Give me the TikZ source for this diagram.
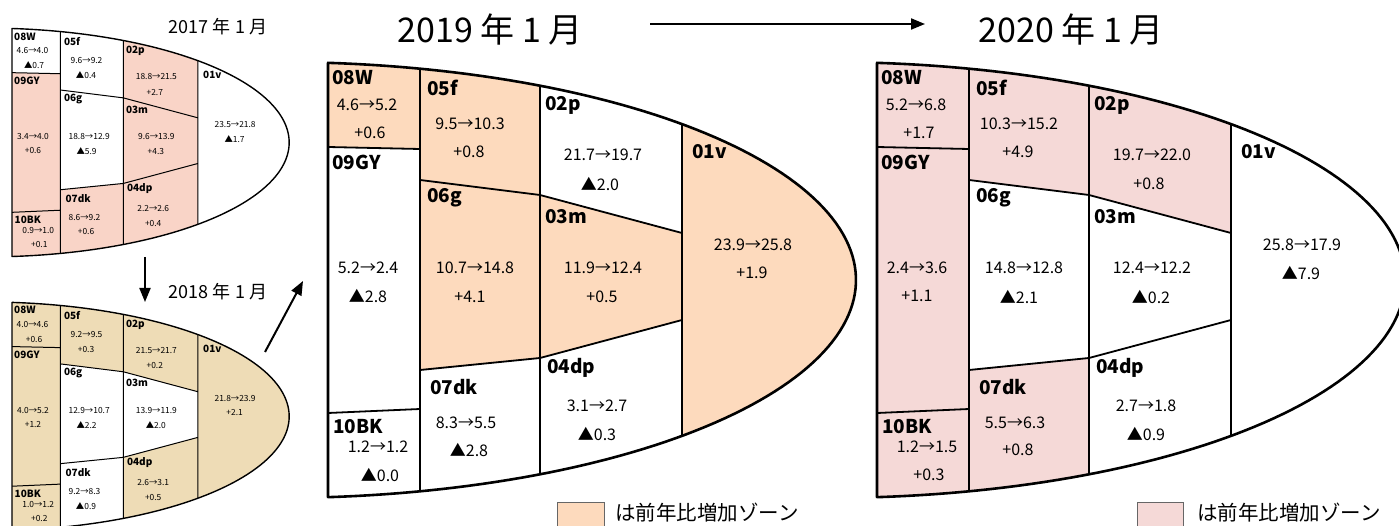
\documentclass[tikz,border=0pt]{standalone}
\usepackage{fontspec}
\setmainfont{Noto Sans CJK JP}
\usetikzlibrary{arrows.meta}
\definecolor{pinkA}{HTML}{F9D4C7}
\definecolor{beigeA}{HTML}{EEDCB6}
\definecolor{orangeA}{HTML}{FDDABD}
\definecolor{pinkB}{HTML}{F5D9D7}
% regions in a local frame: x from left edge, y up from the vertical centre
\newcommand\RegW{(0,133) -- (0,217.2) -- plot[domain=85.04:75.78,samples=10] ({-50+578*cos(\x)},{218*sin(\x)}) -- (92,131) -- cycle}
\newcommand\RegGY{(0,133) -- (92,131) -- (92,-129) -- (0,-133) -- cycle}
\newcommand\RegBK{(0,-133) -- (92,-129) -- (92,-211.3) -- plot[domain=-75.78:-85.04,samples=10] ({-50+578*cos(\x)},{218*sin(\x)}) -- cycle}
\newcommand\RegF{(92,100) -- (92,211.3) -- plot[domain=75.78:63.05,samples=12] ({-50+578*cos(\x)},{218*sin(\x)}) -- (212,85) -- cycle}
\newcommand\RegG{(92,100) -- (212,85) -- (212,-78) -- (92,-90) -- cycle}
\newcommand\RegDK{(92,-90) -- (212,-78) -- (212,-194.3) -- plot[domain=-63.05:-75.78,samples=12] ({-50+578*cos(\x)},{218*sin(\x)}) -- cycle}
\newcommand\RegP{(212,85) -- (212,194.3) -- plot[domain=63.05:45.65,samples=14] ({-50+578*cos(\x)},{218*sin(\x)}) -- (354,47) -- cycle}
\newcommand\RegM{(212,85) -- (354,47) -- (354,-40) -- (212,-78) -- cycle}
\newcommand\RegDP{(212,-78) -- (354,-40) -- (354,-155.9) -- plot[domain=-45.65:-63.05,samples=14] ({-50+578*cos(\x)},{218*sin(\x)}) -- cycle}
\newcommand\RegV{(354,155.9) -- plot[domain=45.65:-45.65,samples=60] ({-50+578*cos(\x)},{218*sin(\x)}) -- cycle}
\newcommand\OutLine{(0,-217.2) -- (0,217.2) -- plot[domain=85.04:-85.04,samples=120] ({-50+578*cos(\x)},{218*sin(\x)}) -- cycle}
\newcommand\InLines{(0,133) -- (92,131) (0,-133) -- (92,-129) (92,211.3) -- (92,-211.3) (212,194.3) -- (212,-194.3) (354,155.9) -- (354,-155.9) (92,100) -- (212,85) -- (354,47) (92,-90) -- (212,-78) -- (354,-40)}
% zone texts
\newcommand\zW[3]{\node[lab] (#1W) at (4,202) {08W}; \node[val] (#1Wa) at (39,175) {#2}; \node[val] (#1Wb) at (42,147) {#3};}
\newcommand\zGY[3]{\node[lab] (#1GY) at (4,118) {09GY}; \node[val] (#1GYa) at (40,12) {#2}; \node[val] (#1GYb) at (40,-16) {#3};}
\newcommand\zBK[3]{\node[lab] (#1BK) at (5,-147) {10BK}; \node[val] (#1BKa) at (50,-167) {#2}; \node[val] (#1BKb) at (52,-195) {#3};}
\newcommand\zF[3]{\node[lab] (#1F) at (99,192) {05f}; \node[val] (#1Fa) at (142,156) {#2}; \node[val] (#1Fb) at (141,128) {#3};}
\newcommand\zG[3]{\node[lab] (#1G) at (99,82) {06g}; \node[val] (#1Ga) at (147,12) {#2}; \node[val] (#1Gb) at (142,-17) {#3};}
\newcommand\zDK[3]{\node[lab] (#1DK) at (102,-107) {07dk}; \node[val] (#1DKa) at (138,-143) {#2}; \node[val] (#1DKb) at (141,-170) {#3};}
\newcommand\zP[3]{\node[lab] (#1P) at (217,175) {02p}; \node[val] (#1Pa) at (275,125) {#2}; \node[val] (#1Pb) at (272,96) {#3};}
\newcommand\zM[3]{\node[lab] (#1M) at (217,63) {03m}; \node[val] (#1Ma) at (275,12) {#2}; \node[val] (#1Mb) at (274,-17) {#3};}
\newcommand\zDP[3]{\node[lab] (#1DP) at (219,-88) {04dp}; \node[val] (#1DPa) at (269,-126) {#2}; \node[val] (#1DPb) at (269,-154) {#3};}
\newcommand\zV[3]{\node[lab] (#1V) at (364,128) {01v}; \node[val] (#1Va) at (425,35) {#2}; \node[val] (#1Vb) at (424,7) {#3};}
\begin{document}
\begin{tikzpicture}[x=1pt,y=1pt,
  lab/.style={anchor=west,inner sep=0pt,font=\bfseries\fontsize{19}{19}\selectfont},
  val/.style={inner sep=0pt,font=\fontsize{16}{16}\selectfont},
  bigout/.style={line width=2.6pt,line join=round},
  bigin/.style={line width=1.8pt},
  smout/.style={line width=1.4pt,line join=round},
  smin/.style={line width=1pt},
  ttl/.style={inner sep=0pt,font=\fontsize{34}{34}\selectfont},
  sttl/.style={inner sep=0pt,font=\fontsize{18}{18}\selectfont},
  leg/.style={anchor=west,inner sep=0pt,font=\fontsize{20.5}{20.5}\selectfont},
  legbox/.style={draw=black!60,line width=0.8pt},
  arr/.style={line width=2pt,-{Triangle[length=14pt,width=11pt]}}]
\useasboundingbox (0,0) rectangle (1399,525);
\clip (0,0) rectangle (1399,525);
% ---------- 2017 ----------
\begin{scope}[shift={(12,382.5)},scale=0.525,transform shape]
  \fill[pinkA] \RegGY; \fill[pinkA] \RegBK; \fill[pinkA] \RegDK;
  \fill[pinkA] \RegP; \fill[pinkA] \RegM; \fill[pinkA] \RegDP;
  \draw[smin] \InLines; \draw[smout] \OutLine;
  \zW{a}{4.6→4.0}{▲0.7} \zGY{a}{3.4→4.0}{+0.6} \zBK{a}{0.9→1.0}{+0.1}
  \zF{a}{9.6→9.2}{▲0.4} \zG{a}{18.8→12.9}{▲5.9} \zDK{a}{8.6→9.2}{+0.6}
  \zP{a}{18.8→21.5}{+2.7} \zM{a}{9.6→13.9}{+4.3} \zDP{a}{2.2→2.6}{+0.4}
  \zV{a}{23.5→21.8}{▲1.7}
\end{scope}
% ---------- 2018 ----------
\begin{scope}[shift={(12,108.6)},scale=0.525,transform shape]
  \fill[beigeA] \RegW; \fill[beigeA] \RegGY; \fill[beigeA] \RegBK;
  \fill[beigeA] \RegF; \fill[beigeA] \RegP; \fill[beigeA] \RegDP; \fill[beigeA] \RegV;
  \draw[smin] \InLines; \draw[smout] \OutLine;
  \zW{b}{4.0→4.6}{+0.6} \zGY{b}{4.0→5.2}{+1.2} \zBK{b}{1.0→1.2}{+0.2}
  \zF{b}{9.2→9.5}{+0.3} \zG{b}{12.9→10.7}{▲2.2} \zDK{b}{9.2→8.3}{▲0.9}
  \zP{b}{21.5→21.7}{+0.2} \zM{b}{13.9→11.9}{▲2.0} \zDP{b}{2.6→3.1}{+0.5}
  \zV{b}{21.8→23.9}{+2.1}
\end{scope}
% ---------- 2019 ----------
\begin{scope}[shift={(328,245)}]
  \fill[orangeA] \RegW; \fill[orangeA] \RegF; \fill[orangeA] \RegG;
  \fill[orangeA] \RegM; \fill[orangeA] \RegV;
  \draw[bigin] \InLines; \draw[bigout] \OutLine;
  \zW{c}{4.6→5.2}{+0.6} \zGY{c}{5.2→2.4}{▲2.8} \zBK{c}{1.2→1.2}{▲0.0}
  \zF{c}{9.5→10.3}{+0.8} \zG{c}{10.7→14.8}{+4.1} \zDK{c}{8.3→5.5}{▲2.8}
  \zP{c}{21.7→19.7}{▲2.0} \zM{c}{11.9→12.4}{+0.5} \zDP{c}{3.1→2.7}{▲0.3}
  \zV{c}{23.9→25.8}{+1.9}
\end{scope}
% ---------- 2020 ----------
\begin{scope}[shift={(877,245)}]
  \fill[pinkB] \RegW; \fill[pinkB] \RegGY; \fill[pinkB] \RegBK;
  \fill[pinkB] \RegF; \fill[pinkB] \RegDK; \fill[pinkB] \RegP;
  \draw[bigin] \InLines; \draw[bigout] \OutLine;
  \zW{d}{5.2→6.8}{+1.7} \zGY{d}{2.4→3.6}{+1.1} \zBK{d}{1.2→1.5}{+0.3}
  \zF{d}{10.3→15.2}{+4.9} \zG{d}{14.8→12.8}{▲2.1} \zDK{d}{5.5→6.3}{+0.8}
  \zP{d}{19.7→22.0}{+0.8} \zM{d}{12.4→12.2}{▲0.2} \zDP{d}{2.7→1.8}{▲0.9}
  \zV{d}{25.8→17.9}{▲7.9}
\end{scope}
% ---------- titles and arrows ----------
\node[sttl] (t17) at (218,498) {2017 年 1 月};
\node[sttl] (t18) at (218,233) {2018 年 1 月};
\node[ttl] (t19) at (490,495) {2019 年 1 月};
\node[ttl] (t20) at (1071,495) {2020 年 1 月};
\coordinate (a1s) at (145,268);
\coordinate (a1e) at (145,223);
\coordinate (a2s) at (265,173);
\coordinate (a2e) at (303,244);
\coordinate (a3s) at (650,501);
\coordinate (a3e) at (925,501);
\draw[arr] (a1s) -- (a1e);
\draw[arr] (a2s) -- (a2e);
\draw[arr] (a3s) -- (a3e);
% ---------- legends ----------
\draw[legbox,fill=orangeA] (557,23) rectangle (604,-5);
\node[leg] (l19) at (615,12) {は前年比増加ゾーン};
\draw[legbox,fill=pinkB] (1137,23) rectangle (1183,-5);
\node[leg] (l20) at (1197,12) {は前年比増加ゾーン};
\end{tikzpicture}
\end{document}
